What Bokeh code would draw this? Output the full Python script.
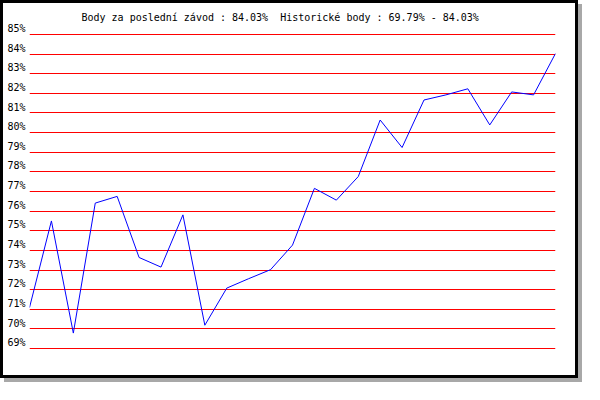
from bokeh.plotting import figure
from bokeh.models import FixedTicker, Range1d, LinearAxis
from bokeh.embed import file_html
from bokeh.resources import INLINE

# ---- data ----
race_index = list(range(25))
points_pct = [71.09, 75.50, 69.79, 76.41, 76.75, 73.64, 73.15, 75.81, 70.19, 72.08,
              72.56, 73.02, 74.27, 77.16, 76.56, 77.76, 80.64, 79.24, 81.66, 81.92,
              82.23, 80.39, 82.07, 81.92, 84.03]
y_ticks = list(range(69, 86))
y_tick_labels = {t: f"{t}%" for t in y_ticks}
title_text = "Body za poslední závod : 84.03%\u00a0 Historické body : 69.79% - 84.03%"

MONO = "DejaVu Sans Mono"
Y_LO, Y_HI = 68.903, 85.453
LABEL_SHIFT = 0.3  # labels sit a few pixels above their grid line

p = figure(width=578, height=378, output_backend="svg", toolbar_location=None,
           x_range=Range1d(0, 24), y_range=Range1d(Y_LO, Y_HI),
           min_border_left=26, min_border_right=26, min_border_top=22, min_border_bottom=31)
p.styles = {"border": "3px solid black", "box-shadow": "4px 4px 0px #a8a8a8"}

p.background_fill_color = "white"
p.border_fill_color = "white"
p.outline_line_color = None

p.title.text = title_text
p.title.text_font = MONO
p.title.text_font_size = "10px"
p.title.text_font_style = "normal"
p.title.text_color = "black"
p.title.align = "left"
p.title.offset = 52
p.title.standoff = 6

p.xaxis.visible = False
p.xgrid.visible = False
p.yaxis.visible = False

p.extra_y_ranges = {"labels": Range1d(Y_LO - LABEL_SHIFT, Y_HI - LABEL_SHIFT)}
yax = LinearAxis(y_range_name="labels")
yax.ticker = FixedTicker(ticks=y_ticks)
yax.major_label_overrides = y_tick_labels
yax.axis_line_color = None
yax.major_tick_line_color = None
yax.minor_tick_line_color = None
yax.major_tick_out = 0
yax.major_tick_in = 0
yax.major_label_standoff = 4
yax.major_label_text_font = MONO
yax.major_label_text_font_size = "10px"
yax.major_label_text_color = "black"
p.add_layout(yax, "left")

p.ygrid.ticker = FixedTicker(ticks=y_ticks)
p.ygrid.grid_line_color = "#ff0000"
p.ygrid.grid_line_width = 1
p.ygrid.grid_line_alpha = 1.0

p.line(race_index, points_pct, line_color="#0000ff", line_width=1)

open("out.html", "w").write(file_html(p, INLINE))
